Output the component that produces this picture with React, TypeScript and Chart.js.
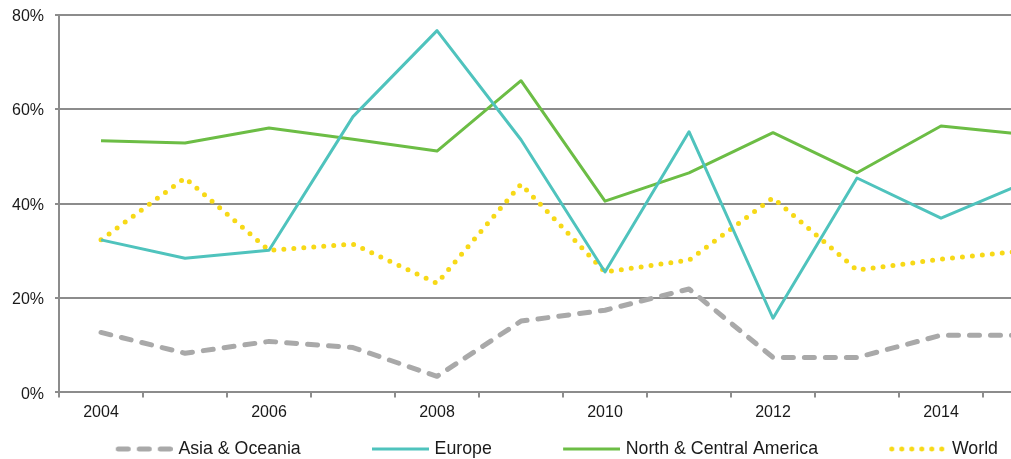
import React, { useEffect, useRef } from 'react';
import { Chart, registerables } from 'chart.js';

Chart.register(...registerables);

const years = ['2004', '2005', '2006', '2007', '2008', '2009', '2010', '2011', '2012', '2013', '2014', '2015'];
const shownYearLabels = ['2004', '2006', '2008', '2010', '2012', '2014'];
const yTickValues = [0, 20, 40, 60, 80];

const asiaOceania = [12.7, 8.3, 10.8, 9.5, 3.4, 15.1, 17.4, 21.9, 7.4, 7.4, 12.1, 12.1];
const europe = [32.3, 28.4, 30.1, 58.4, 76.6, 53.5, 25.5, 55.2, 15.7, 45.4, 36.9, 44.4];
const northCentralAmerica = [53.3, 52.8, 56.0, 53.6, 51.1, 66.0, 40.5, 46.5, 55.0, 46.5, 56.4, 54.6];
const world = [32.3, 45.4, 30.1, 31.4, 23.1, 44.1, 25.5, 28.0, 41.2, 25.9, 28.2, 30.0];

const seriesNames = ['Asia & Oceania', 'Europe', 'North & Central America', 'World'];

const FONT = 'Arial, "Liberation Sans", Helvetica, sans-serif';
const GRAY = '#8c8c8c';
const TEXT = '#1a1a1a';

const LEGEND_PAD = 11.5;
const LEGEND_BOX = 113.5;
const ICON_W = 120;
const LINE_LEN = 57;
const LEGEND_LEFT = 44.5;

function makeIcon(color: string, dash: number[], lineWidth: number) {
  const c = document.createElement('canvas');
  c.width = ICON_W;
  c.height = 10;
  const ctx = c.getContext('2d')!;
  ctx.strokeStyle = color;
  ctx.lineWidth = lineWidth;
  ctx.lineCap = dash.length ? 'round' : 'butt';
  ctx.setLineDash(dash);
  ctx.beginPath();
  const inset = dash.length ? lineWidth / 2 : 0;
  ctx.moveTo(ICON_W - LINE_LEN + inset, 5);
  ctx.lineTo(ICON_W - inset, 5);
  ctx.stroke();
  return c;
}

const legendShift = {
  id: 'legendShift',
  afterLayout(chart: any) {
    const lg = chart.legend;
    if (!lg) return;
    const w = lg.right - lg.left;
    lg.left = LEGEND_LEFT;
    lg.right = LEGEND_LEFT + w;
  },
};

export default function App() {
  const ref = useRef<HTMLCanvasElement | null>(null);

  useEffect(() => {
    document.body.style.margin = '0';
    const canvas = ref.current;
    if (!canvas) return;

    const styles = [
      { color: '#a9a9a9', dash: [10, 11], width: 5, cap: 'round' as CanvasLineCap },
      { color: '#4fc3bd', dash: [] as number[], width: 3, cap: 'butt' as CanvasLineCap },
      { color: '#6cbd45', dash: [] as number[], width: 3, cap: 'butt' as CanvasLineCap },
      { color: '#f7d917', dash: [0, 10], width: 5, cap: 'round' as CanvasLineCap },
    ];
    const data = [asiaOceania, europe, northCentralAmerica, world];
    const icons = styles.map((s) => makeIcon(s.color, s.dash, s.width));

    const chart = new Chart(canvas, {
      type: 'line',
      data: {
        labels: years,
        datasets: data.map((d, i) => ({
          label: seriesNames[i],
          data: d,
          borderColor: styles[i].color,
          backgroundColor: styles[i].color,
          borderWidth: styles[i].width,
          borderDash: styles[i].dash,
          borderCapStyle: styles[i].cap,
          borderJoinStyle: 'round' as CanvasLineJoin,
          pointRadius: 0,
          pointHoverRadius: 0,
          tension: 0,
          fill: false,
        })),
      },
      options: {
        animation: false,
        responsive: true,
        maintainAspectRatio: false,
        layout: { padding: { left: 1, right: 51, top: 4, bottom: 0 } },
        plugins: {
          tooltip: { enabled: false },
          legend: {
            position: 'bottom',
            align: 'start',
            maxHeight: 30.4,
            labels: {
              usePointStyle: true,
              pointStyleWidth: LEGEND_BOX,
              boxHeight: 10,
              padding: LEGEND_PAD,
              color: TEXT,
              font: { family: FONT, size: 17.75 },
              generateLabels: () =>
                seriesNames.map((name, i) => ({
                  text: name,
                  pointStyle: icons[i],
                  fillStyle: styles[i].color,
                  strokeStyle: styles[i].color,
                  lineWidth: 0,
                  hidden: false,
                  datasetIndex: i,
                  fontColor: TEXT,
                })),
            },
          },
        },
        scales: {
          x: {
            type: 'category',
            offset: true,
            grid: {
              offset: true,
              drawOnChartArea: false,
              drawTicks: true,
              tickLength: 5,
              color: GRAY,
              lineWidth: 2,
            },
            border: { display: true, color: GRAY, width: 2 },
            ticks: {
              autoSkip: false,
              maxRotation: 0,
              padding: 6,
              color: TEXT,
              font: { family: FONT, size: 16 },
              callback: (_v: any, idx: number) => (shownYearLabels.includes(years[idx]) ? years[idx] : ''),
            },
          },
          y: {
            min: 0,
            max: 80,
            afterBuildTicks: (axis: any) => {
              axis.ticks = yTickValues.map((v) => ({ value: v }));
            },
            grid: {
              color: GRAY,
              lineWidth: 2,
              drawTicks: true,
              tickLength: 4,
            },
            border: { display: true, color: GRAY, width: 2 },
            ticks: {
              padding: 11,
              labelOffset: 2,
              color: TEXT,
              font: { family: FONT, size: 16, lineHeight: 0.45 },
              callback: (v: any) => `${v}%`,
            },
          },
        },
      },
      plugins: [legendShift],
    });

    return () => {
      chart.destroy();
    };
  }, []);

  return (
    <div style={{ width: 1011, height: 459, overflow: 'hidden', position: 'relative' }}>
      <div style={{ width: 1118, height: 459, position: 'relative' }}>
        <canvas ref={ref} />
      </div>
    </div>
  );
}
